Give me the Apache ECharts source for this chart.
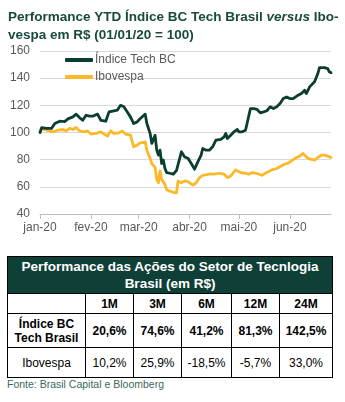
<!DOCTYPE html>
<html>
<head>
<meta charset="utf-8">
<script src="https://cdn.jsdelivr.net/npm/echarts@6/dist/echarts.min.js"></script>
<style>
  html, body { margin: 0; padding: 0; background: #fff; }
  body { width: 345px; height: 402px; position: relative; overflow: hidden;
         font-family: "Liberation Sans", Arial, sans-serif; }
  #chart { position: absolute; left: 0; top: 0; width: 345px; height: 250px; }
  table.perf { position: absolute; left: 7px; top: 256px; width: 325px;
               border-collapse: collapse; table-layout: fixed; }
  table.perf td { border: 1.6px solid #000; text-align: center; color: #000;
                  font-size: 12px; padding: 0; }
  table.perf tr.head td { background: #0f4037; color: #fff; font-weight: bold;
                          font-size: 13.5px; line-height: 17px; height: 36px; }
  table.perf tr.cols td { font-weight: bold; height: 19px; }
  table.perf tr.tech td { font-weight: bold; height: 33px; line-height: 14px; }
  table.perf tr.ibov td { height: 29px; }
  .src { position: absolute; left: 7px; top: 378px; font-size: 10.5px; line-height: 12px; color: #3a6a5d; }
</style>
</head>
<body>
<div id="chart"></div>
<table class="perf" id="perf"></table>
<div class="src" id="src"></div>
<script>
// Índice BC Tech Brasil, base 100 on 01/01/20
const techDates = ['2020-01-01','2020-01-02','2020-01-05','2020-01-08','2020-01-10','2020-01-13','2020-01-14','2020-01-16','2020-01-18','2020-01-21','2020-01-23','2020-01-25','2020-01-27','2020-01-29','2020-01-31','2020-02-02','2020-02-05','2020-02-07','2020-02-10','2020-02-12','2020-02-15','2020-02-17','2020-02-19','2020-02-21','2020-02-23','2020-02-25','2020-02-27','2020-02-29','2020-03-02','2020-03-05','2020-03-06','2020-03-08','2020-03-09','2020-03-11','2020-03-12','2020-03-13','2020-03-14','2020-03-15','2020-03-16','2020-03-17','2020-03-18','2020-03-20','2020-03-22','2020-03-24','2020-03-27','2020-03-29','2020-03-31','2020-04-02','2020-04-04','2020-04-06','2020-04-08','2020-04-09','2020-04-11','2020-04-13','2020-04-15','2020-04-17','2020-04-20','2020-04-22','2020-04-23','2020-04-24','2020-04-26','2020-04-28','2020-04-30','2020-05-01','2020-05-03','2020-05-05','2020-05-06','2020-05-08','2020-05-10','2020-05-12','2020-05-14','2020-05-16','2020-05-18','2020-05-20','2020-05-22','2020-05-24','2020-05-26','2020-05-28','2020-05-30','2020-06-01','2020-06-03','2020-06-06','2020-06-08','2020-06-10','2020-06-11','2020-06-13','2020-06-16','2020-06-18','2020-06-19','2020-06-22','2020-06-24','2020-06-25','2020-06-26'];
const techValues = [100,103.5,103,103,106.6,108.3,109,108,110,111.5,113.5,111,109,112.7,112,112,113.5,109,108.3,115.2,116,116.4,120,118.9,115.2,111.5,106.6,107.8,110.3,113.5,106.6,99.3,92,98,87,83.3,87,77.2,79.7,73.5,70.5,70,69.3,72,85.8,82,81,77.2,73,78.4,83.3,88.2,87,87,89.5,94.4,95,96.8,99.3,95.6,98,100.5,102.2,100.5,100.5,101.7,103,117.6,117.6,117,114.5,115.2,116,118.9,117.6,118.9,121.3,125,126.2,125,125,127.5,128.7,131.1,128.7,133.6,137.3,143.4,147.8,147.8,147,144.6,144.1];

// Ibovespa, base 100 on 01/01/20
const ibovDates = ['2020-01-01','2020-01-02','2020-01-05','2020-01-09','2020-01-12','2020-01-15','2020-01-17','2020-01-19','2020-01-21','2020-01-23','2020-01-25','2020-01-28','2020-01-30','2020-02-01','2020-02-04','2020-02-07','2020-02-09','2020-02-11','2020-02-13','2020-02-15','2020-02-18','2020-02-20','2020-02-22','2020-02-25','2020-02-27','2020-02-29','2020-03-02','2020-03-05','2020-03-06','2020-03-08','2020-03-09','2020-03-11','2020-03-12','2020-03-13','2020-03-14','2020-03-15','2020-03-17','2020-03-18','2020-03-20','2020-03-22','2020-03-24','2020-03-25','2020-03-27','2020-03-29','2020-03-31','2020-04-03','2020-04-05','2020-04-07','2020-04-09','2020-04-13','2020-04-16','2020-04-19','2020-04-22','2020-04-24','2020-04-26','2020-04-29','2020-05-02','2020-05-05','2020-05-07','2020-05-09','2020-05-12','2020-05-15','2020-05-18','2020-05-21','2020-05-24','2020-05-27','2020-05-29','2020-05-31','2020-06-02','2020-06-05','2020-06-07','2020-06-09','2020-06-10','2020-06-12','2020-06-16','2020-06-18','2020-06-20','2020-06-22','2020-06-24','2020-06-26'];
const ibovValues = [100,103,101.7,100.5,101.7,102.2,101.2,103,102.2,103.7,101.2,100.5,101.2,98.8,99.3,100.5,98.8,97.3,101.2,99.3,99.8,101.2,98.8,98,89.5,90.7,92.4,93.1,87,80.9,77,74.5,65.5,63,71.8,65.5,61.8,58,56.8,56,55.5,64.3,63,64.3,63.8,61.3,63,66.8,68.5,69.3,69.3,70,69.3,66.8,68,72.5,70.5,70,69.3,70.5,69.8,68.5,70.5,72.5,73.5,75.5,76.8,77.5,79.3,81.6,82.6,84.6,83.3,80.9,79.7,81.6,83.3,83.3,82.6,81.6];

const seriesNames = ['Índice Tech BC', 'Ibovespa'];
const monthTicks = ['2020-01-01','2020-02-01','2020-03-01','2020-04-01','2020-05-01','2020-06-01'];
const monthLabels = ['jan-20','fev-20','mar-20','abr-20','mai-20','jun-20'];

// Performance table
const tableTitle = ['Performance das Ações do Setor de Tecnlogia', 'Brasil (em R$)'];
const periods = ['1M','3M','6M','12M','24M'];
const techPerf = ['20,6%','74,6%','41,2%','81,3%','142,5%'];
const ibovPerf = ['10,2%','25,9%','-18,5%','-5,7%','33,0%'];
const sourceNote = 'Fonte: Brasil Capital e Bloomberg';

// Build the table first so it shows even if the chart fails
const tbl = document.getElementById('perf');
const widths = [78, 48, 48, 50, 48, 53];
let html = '<colgroup>' + widths.map(w => '<col style="width:' + w + 'px">').join('') + '</colgroup>';
html += '<tr class="head"><td colspan="6">' + tableTitle.join('<br>') + '</td></tr>';
html += '<tr class="cols"><td></td>' + periods.map(p => '<td>' + p + '</td>').join('') + '</tr>';
html += '<tr class="tech"><td>Índice BC<br>Tech Brasil</td>' + techPerf.map(p => '<td>' + p + '</td>').join('') + '</tr>';
html += '<tr class="ibov"><td>Ibovespa</td>' + ibovPerf.map(p => '<td>' + p + '</td>').join('') + '</tr>';
tbl.innerHTML = html;
document.getElementById('src').textContent = sourceNote;

const FONT = '"Liberation Sans", Arial, sans-serif';
// Dates become UTC millisecond stamps on a numeric axis
const ts = s => { const p = s.split('-').map(Number); return Date.UTC(p[0], p[1] - 1, p[2]); };
const tickTs = monthTicks.map(ts);

const chart = echarts.init(document.getElementById('chart'), null, { renderer: 'canvas' });
chart.setOption({
  animation: false,
  title: {
    left: 3, top: 3,
    text: '{b|Performance YTD Índice BC Tech Brasil }{i|versus}{b| Ibo-}\n{b|vespa em R$ (01/01/20 = 100)}',
    textStyle: {
      rich: {
        b: { fontFamily: FONT, fontSize: 13.5, fontWeight: 'bold', color: '#184b3d', lineHeight: 18 },
        i: { fontFamily: FONT, fontSize: 13.5, fontWeight: 'bold', fontStyle: 'italic', color: '#184b3d', lineHeight: 18 }
      }
    }
  },
  legend: {
    orient: 'vertical', left: 60, top: 49, itemGap: 5,
    itemWidth: 28, itemHeight: 4, icon: 'roundRect',
    textStyle: { fontFamily: FONT, fontSize: 12, color: '#595959', padding: [0, 0, 0, -3] },
    data: seriesNames
  },
  grid: { left: 40, right: 14, top: 51, bottom: 36, containLabel: false },
  xAxis: {
    type: 'value',
    min: ts('2020-01-01'), max: ts('2020-06-26'),
    axisLine: { show: true, lineStyle: { color: '#bfbfbf', width: 1 } },
    axisTick: { show: true, length: 5, lineStyle: { color: '#bfbfbf' }, customValues: tickTs },
    axisLabel: {
      customValues: tickTs, margin: 8, showMinLabel: true, showMaxLabel: true,
      fontFamily: FONT, fontSize: 12, color: '#595959',
      formatter: v => { const i = tickTs.indexOf(v); return i >= 0 ? monthLabels[i] : ''; }
    },
    splitLine: { show: false }
  },
  yAxis: {
    type: 'value', min: 40, max: 160, interval: 20,
    axisLine: { show: false }, axisTick: { show: false },
    axisLabel: { fontFamily: FONT, fontSize: 12, color: '#595959', margin: 10 },
    splitLine: { lineStyle: { color: '#d9d9d9', width: 1 } }
  },
  series: [
    {
      name: seriesNames[0], type: 'line', showSymbol: false, z: 3,
      data: techDates.map((d, i) => [ts(d), techValues[i]]),
      lineStyle: { color: '#0b3d30', width: 2.8, cap: 'round', join: 'round' },
      itemStyle: { color: '#0b3d30' }
    },
    {
      name: seriesNames[1], type: 'line', showSymbol: false, z: 2,
      data: ibovDates.map((d, i) => [ts(d), ibovValues[i]]),
      lineStyle: { color: '#fbb829', width: 2.8, cap: 'round', join: 'round' },
      itemStyle: { color: '#fbb829' }
    }
  ]
});
</script>
</body>
</html>
